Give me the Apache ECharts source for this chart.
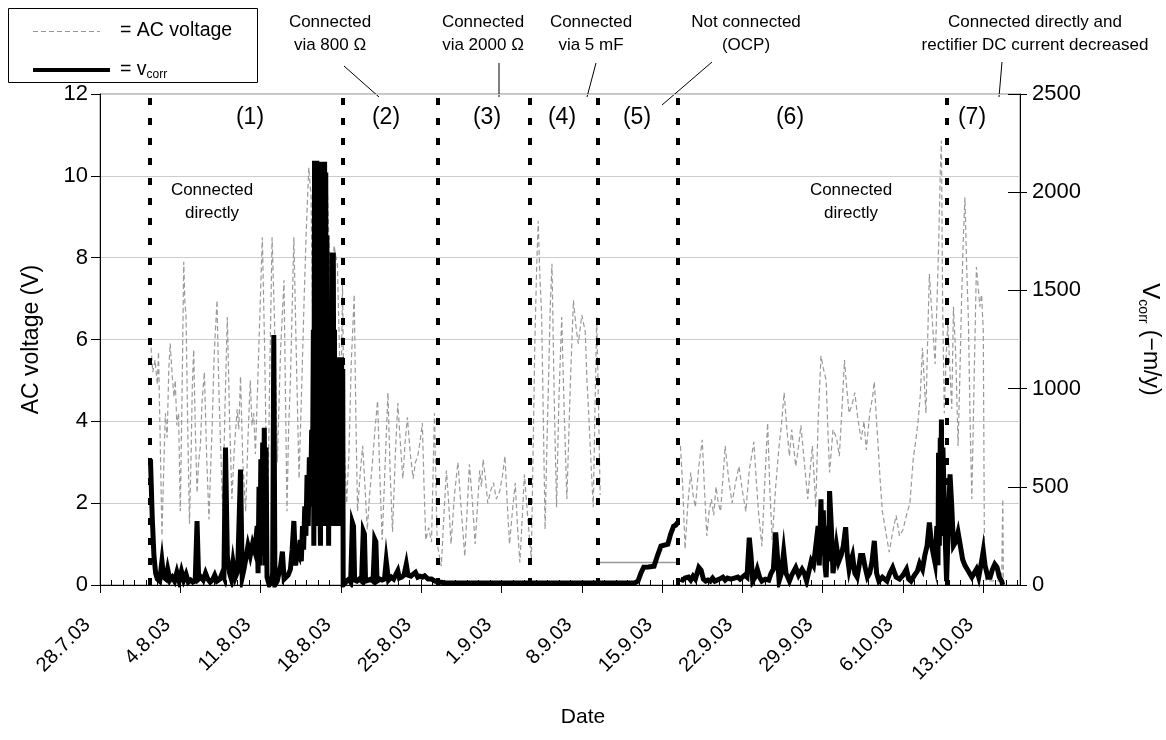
<!DOCTYPE html>
<html>
<head>
<meta charset="utf-8">
<script src="https://cdn.jsdelivr.net/npm/echarts@6/dist/echarts.min.js"></script>
<style>
  html, body { margin: 0; padding: 0; background: #fff; }
  #main { width: 1166px; height: 740px; }
</style>
</head>
<body>
<div id="main"></div>
<script>
// x values are days after 28.7.03
var tickLabels = ['28.7.03', '4.8.03', '11.8.03', '18.8.03', '25.8.03', '1.9.03', '8.9.03',
  '15.9.03', '22.9.03', '29.9.03', '6.10.03', '13.10.03'];

// section boundaries (dotted lines), in days
var boundaryDays = [4.36, 21.19, 29.47, 37.49, 43.42, 50.39, 73.85];

// AC voltage (V), periods 1-4
var acPart1 = [[4.45,5.8],[4.6,5.2],[4.8,5.5],[5.0,4.9],[5.1,5.7],[5.25,3.5],[5.4,1.2],[5.55,2.8],[5.7,4.2],[5.85,3.6],[6.0,5.3],[6.12,5.9],[6.3,5.1],[6.45,4.6],[6.56,5.0],[6.7,3.9],[6.85,4.2],[7.0,1.8],[7.15,4.6],[7.3,7.9],[7.4,6.9],[7.5,6.6],[7.65,3.8],[7.8,1.5],[7.95,3.3],[8.05,4.9],[8.17,5.75],[8.3,3.9],[8.46,2.25],[8.6,3.0],[8.75,3.4],[8.9,4.5],[9.1,5.2],[9.3,3.1],[9.5,1.6],[9.65,2.9],[9.77,3.8],[9.95,5.6],[10.2,6.96],[10.35,4.9],[10.5,3.55],[10.7,1.8],[10.9,4.4],[11.1,6.55],[11.3,4.0],[11.5,2.1],[11.7,3.3],[11.96,4.3],[12.1,3.8],[12.25,5.1],[12.45,3.0],[12.7,1.8],[12.9,3.6],[13.1,5.0],[13.25,3.9],[13.4,4.2],[13.55,3.2],[13.7,4.5],[13.9,6.3],[14.15,8.5],[14.35,5.8],[14.6,1.36],[14.8,5.2],[15.0,8.5],[15.2,6.6],[15.46,3.0],[15.6,4.4],[15.75,5.8],[16.04,7.45],[16.15,5.0],[16.3,1.8],[16.45,3.9],[16.6,5.0],[16.9,8.5],[17.1,5.8],[17.35,2.6],[17.55,4.5],[17.8,7.05],[18.0,8.8],[18.2,10.2],[18.4,9.5],[18.55,6.1],[18.66,2.6],[18.8,6.0],[18.95,8.25],[19.1,8.9],[19.25,9.2],[19.5,8.3],[19.8,9.9],[20.0,8.0],[20.2,6.4],[20.4,8.3],[20.7,7.8],[21.0,4.2],[21.14,7.4],[21.3,3.4],[21.5,2.0],[21.7,3.2],[21.9,5.4],[22.16,7.1],[22.3,4.2],[22.45,1.8],[22.7,2.8],[22.9,3.4],[23.1,2.4],[23.3,1.35],[23.5,2.2],[23.75,3.0],[24.0,3.9],[24.2,4.5],[24.4,2.6],[24.6,1.1],[24.85,2.9],[25.1,4.7],[25.3,2.7],[25.5,1.3],[25.75,3.2],[25.96,4.45],[26.2,3.4],[26.4,2.6],[26.6,3.5],[26.8,4.1],[27.05,3.2],[27.3,2.6],[27.5,3.0],[27.7,3.15],[27.9,3.5],[28.1,3.96],[28.25,2.4],[28.4,1.1],[28.65,1.4],[28.9,1.05],[29.05,2.9],[29.16,4.2],[29.3,2.2],[29.4,1.0],[29.75,0.46],[30.0,1.8],[30.2,2.8],[30.4,2.0],[30.6,1.0],[30.9,2.2],[31.2,3.0],[31.5,1.8],[31.8,0.7],[32.0,1.8],[32.2,2.95],[32.45,2.1],[32.7,1.0],[32.9,1.9],[33.1,2.8],[33.25,2.4],[33.4,3.07],[33.6,2.6],[33.8,2.0],[34.05,2.3],[34.3,2.5],[34.55,2.1],[34.85,2.3],[35.1,2.7],[35.3,3.15],[35.5,2.0],[35.7,1.0],[35.95,1.8],[36.2,2.5],[36.4,1.4],[36.6,0.55],[36.8,1.6],[37.0,2.7],[37.3,1.6],[37.6,0.63],[37.75,3.2],[37.9,5.8],[38.05,7.6],[38.2,8.9],[38.35,7.5],[38.5,6.6],[38.65,4.0],[38.8,1.36],[38.95,3.3],[39.1,5.0],[39.25,6.8],[39.4,7.85],[39.6,4.5],[39.8,1.9],[40.0,4.5],[40.25,6.55],[40.45,4.4],[40.7,2.1],[41.0,4.9],[41.27,6.96],[41.5,6.3],[41.7,5.9],[42.0,6.6],[42.3,6.2],[42.45,5.0],[42.6,4.2],[42.8,3.0],[43.0,1.9],[43.15,4.3],[43.3,6.55],[43.45,4.5],[43.6,2.2]];

// AC voltage while not connected (OCP)
var acOcp = [[43.42,0.55],[50.39,0.55]];

// AC voltage (V), periods 6-7
var acPart2 = [[50.6,3.4],[50.8,2.4],[51.0,0.88],[51.25,2.0],[51.5,2.75],[51.7,2.2],[51.9,1.9],[52.2,2.9],[52.5,3.55],[52.7,2.3],[52.9,1.2],[53.1,1.8],[53.3,2.1],[53.5,1.7],[53.7,2.4],[53.9,2.0],[54.1,1.8],[54.3,2.6],[54.5,3.4],[54.8,2.6],[55.1,2.0],[55.4,2.5],[55.7,2.9],[56.0,2.3],[56.3,1.8],[56.6,2.8],[57.0,3.5],[57.2,2.6],[57.4,1.8],[57.7,0.95],[57.95,2.5],[58.2,3.96],[58.4,2.3],[58.6,1.1],[58.9,2.4],[59.2,3.4],[59.4,3.9],[59.64,4.7],[59.85,3.9],[60.1,3.15],[60.3,3.8],[60.5,3.3],[60.65,2.9],[60.9,3.4],[61.1,3.9],[61.4,3.0],[61.7,2.1],[61.9,2.8],[62.1,3.4],[62.4,1.9],[62.6,4.0],[62.85,5.6],[63.05,5.3],[63.3,5.0],[63.45,3.8],[63.6,2.75],[63.9,3.8],[64.2,3.6],[64.45,3.15],[64.7,4.4],[64.9,5.5],[65.1,4.8],[65.3,4.2],[65.55,4.4],[65.8,4.7],[66.05,4.1],[66.35,3.55],[66.6,4.0],[66.8,3.3],[67.1,4.2],[67.35,4.6],[67.5,4.97],[67.65,4.2],[67.8,3.55],[68.0,2.6],[68.2,1.8],[68.5,1.3],[68.8,0.8],[69.1,1.3],[69.4,1.7],[69.7,1.2],[70.0,1.35],[70.3,1.7],[70.6,2.0],[70.9,3.1],[71.1,3.5],[71.3,3.96],[71.5,4.6],[71.7,5.8],[72.0,4.2],[72.15,6.0],[72.3,7.6],[72.55,6.5],[72.8,5.4],[72.95,6.8],[73.1,8.2],[73.25,10.1],[73.35,10.86],[73.45,7.0],[73.6,4.2],[73.75,5.5],[73.9,6.4],[74.1,5.2],[74.25,4.3],[74.4,6.8],[74.6,5.6],[74.8,3.4],[74.95,5.0],[75.1,6.9],[75.25,8.4],[75.4,9.47],[75.55,7.8],[75.7,6.5],[75.85,4.0],[76.0,2.1],[76.2,5.0],[76.4,7.77],[76.55,7.3],[76.7,6.8],[76.85,7.1],[77.0,6.2],[77.1,0.8],[77.25,0.1],[78.6,0.1],[78.7,2.1],[78.75,0.1]];

// corrosion rate v_corr, left part (periods 1-5)
var vcorrPart1 = [[4.4,640],[4.55,350],[4.7,150],[4.85,60],[5.0,30],[5.2,20],[5.4,122],[5.55,40],[5.75,30],[5.9,81],[6.1,25],[6.3,40],[6.5,20],[6.7,65],[6.9,20],[7.1,70],[7.3,25],[7.5,55],[7.7,15],[7.9,25],[8.1,15],[8.3,20],[8.46,326],[8.6,30],[8.8,40],[9.0,25],[9.2,60],[9.4,30],[9.6,15],[9.8,25],[10.0,50],[10.2,20],[10.45,30],[10.65,60],[10.8,40],[10.94,700],[11.1,150],[11.3,60],[11.45,30],[11.6,115],[11.8,40],[12.0,70],[12.1,60],[12.25,588],[12.4,40],[12.55,80],[12.7,130],[12.9,200],[13.1,150],[13.3,210],[13.5,170],[13.7,300],[13.78,60],[13.86,500],[13.94,100],[14.02,640],[14.1,150],[14.18,725],[14.26,200],[14.32,800],[14.4,100],[14.48,700],[14.56,40],[14.75,0],[14.95,20],[15.05,60],[15.15,1273],[15.25,0],[15.45,20],[15.6,60],[15.75,100],[15.9,170],[16.05,30],[16.2,20],[16.4,50],[16.6,80],[16.75,180],[16.9,326],[17.05,100],[17.2,170],[17.35,150],[17.45,230],[17.55,120],[17.65,300],[17.75,180],[17.85,400],[17.95,250],[18.05,560],[18.15,300],[18.25,650],[18.35,400],[18.45,790],[18.52,500],[18.6,1300],[18.64,200],[18.7,2160],[18.75,400],[18.8,2160],[18.85,300],[18.9,2160],[18.95,600],[19.0,2100],[19.05,300],[19.1,800],[19.16,487],[19.22,200],[19.28,2155],[19.33,400],[19.38,2155],[19.43,300],[19.48,2155],[19.53,500],[19.58,2155],[19.63,300],[19.68,2100],[19.73,600],[19.78,1780],[19.83,400],[19.88,1190],[19.93,200],[19.98,1000],[20.05,300],[20.12,700],[20.18,300],[20.24,1693],[20.29,300],[20.34,1693],[20.39,500],[20.44,1300],[20.49,300],[20.54,940],[20.6,400],[20.66,1160],[20.71,300],[20.76,1160],[20.81,500],[20.86,1160],[20.91,300],[20.96,1160],[21.01,400],[21.06,1160],[21.11,600],[21.16,1100],[21.2,0],[21.5,20],[21.7,30],[21.85,15],[22.0,318],[22.1,300],[22.2,25],[22.4,20],[22.6,30],[22.8,20],[22.95,275],[23.05,260],[23.15,20],[23.4,25],[23.6,30],[23.8,20],[23.95,233],[24.05,220],[24.15,20],[24.4,30],[24.6,25],[24.8,30],[24.95,123],[25.05,115],[25.15,25],[25.4,40],[25.6,30],[25.85,60],[25.96,73],[26.1,35],[26.3,40],[26.5,50],[26.7,106],[26.85,50],[27.1,45],[27.3,55],[27.5,64],[27.7,40],[27.9,45],[28.1,40],[28.3,47],[28.6,30],[28.9,30],[29.2,20],[29.6,15],[30,12],[32,10],[35,10],[38,10],[41,10],[44,10],[46.6,10],[46.9,20],[47.15,60],[47.4,91],[47.8,92],[48.3,96],[48.6,150],[48.9,198],[49.5,208],[49.75,260],[50.0,299],[50.2,305],[50.35,320]];

// corrosion rate v_corr, right part (periods 6-7)
var vcorrPart2 = [[50.6,30],[50.8,25],[51.0,35],[51.3,40],[51.5,25],[51.7,45],[51.9,30],[52.05,60],[52.2,89],[52.4,75],[52.6,30],[52.8,20],[53.0,25],[53.2,20],[53.4,35],[53.6,20],[53.8,25],[54.0,30],[54.3,40],[54.5,25],[54.7,35],[55.0,30],[55.3,35],[55.6,40],[55.8,30],[56.0,40],[56.2,50],[56.4,40],[56.6,241],[56.75,150],[56.9,20],[57.1,40],[57.3,80],[57.5,40],[57.7,20],[58.0,30],[58.3,25],[58.5,60],[58.7,80],[58.9,268],[59.05,150],[59.2,20],[59.4,60],[59.6,170],[59.8,60],[60.1,20],[60.3,50],[60.45,60],[60.65,89],[60.9,50],[61.2,80],[61.4,60],[61.6,20],[61.8,70],[62.0,122],[62.2,100],[62.4,200],[62.6,300],[62.7,100],[62.85,436],[62.95,150],[63.05,380],[63.2,100],[63.3,40],[63.45,300],[63.52,120],[63.6,478],[63.75,300],[63.9,60],[64.05,120],[64.2,200],[64.4,120],[64.6,150],[64.8,200],[65.0,294],[65.15,150],[65.3,80],[65.45,120],[65.6,150],[65.8,60],[66.0,40],[66.15,90],[66.3,150],[66.5,150],[66.7,90],[66.9,40],[67.1,60],[67.3,120],[67.5,225],[67.7,60],[67.9,20],[68.2,40],[68.6,20],[68.85,60],[69.1,89],[69.4,40],[69.7,30],[70.0,50],[70.3,80],[70.5,30],[70.7,20],[71.0,50],[71.25,70],[71.45,110],[71.7,80],[71.9,150],[72.1,200],[72.3,318],[72.5,200],[72.8,110],[72.95,300],[73.05,100],[73.1,673],[73.17,200],[73.25,750],[73.3,300],[73.35,842],[73.42,250],[73.48,700],[73.55,537],[73.7,200],[73.8,20],[73.95,300],[74.1,563],[74.25,400],[74.4,200],[74.6,220],[74.8,268],[75.0,200],[75.2,130],[75.4,100],[75.6,80],[75.8,60],[76.0,40],[76.2,60],[76.4,80],[76.6,40],[76.85,120],[77.0,174],[77.15,100],[77.4,40],[77.6,40],[77.8,80],[78.0,106],[78.2,90],[78.4,40],[78.6,20],[78.7,0]];

var periodLabels = ['(1)', '(2)', '(3)', '(4)', '(5)', '(6)', '(7)'];

var FONT = 'Liberation Sans, Arial, sans-serif';
var GREY = '#999999';

var chart = echarts.init(document.getElementById('main'));

function note(x, y, text, size) {
  return {
    type: 'text', x: x, y: y, silent: true,
    style: { text: text, font: (size || 17) + 'px ' + FONT, fill: '#000',
      align: 'center', verticalAlign: 'middle', lineHeight: 23 }
  };
}
function lead(x1, y1, x2, y2) {
  return { type: 'line', silent: true, shape: { x1: x1, y1: y1, x2: x2, y2: y2 },
    style: { stroke: '#000', lineWidth: 1 } };
}

var periodX = [250, 386, 487, 562, 637, 790, 972];
var graphics = [
  // legend box
  { type: 'rect', shape: { x: 8.5, y: 8.5, width: 249, height: 74 },
    style: { fill: '#fff', stroke: '#000', lineWidth: 1 } },
  { type: 'line', shape: { x1: 33, y1: 31.5, x2: 100, y2: 31.5 },
    style: { stroke: GREY, lineWidth: 1.2, lineDash: [5, 3] } },
  { type: 'text', x: 120, y: 31, style: { text: '= AC voltage', font: '19.5px ' + FONT, fill: '#000', verticalAlign: 'middle' } },
  { type: 'line', shape: { x1: 33, y1: 70, x2: 110, y2: 70 },
    style: { stroke: '#000', lineWidth: 4 } },
  { type: 'text', x: 120, y: 70, style: {
      text: '{m|= v}{s|corr}', verticalAlign: 'middle', fill: '#000',
      rich: { m: { fontSize: 19.5, fontFamily: FONT, lineHeight: 22 },
              s: { fontSize: 12, fontFamily: FONT, lineHeight: 12, verticalAlign: 'bottom' } } } },
  // annotations
  note(330, 34, 'Connected\nvia 800 Ω'),
  note(483, 34, 'Connected\nvia 2000 Ω'),
  note(591, 34, 'Connected\nvia 5 mF'),
  note(746, 34, 'Not connected\n(OCP)'),
  note(1035, 34, 'Connected directly and\nrectifier DC current decreased'),
  lead(344, 66, 379, 97),
  lead(499, 63, 499, 97),
  lead(596, 63, 587, 97),
  lead(712, 62, 662, 105),
  lead(1002, 62, 999, 97),
  note(212, 202, 'Connected\ndirectly'),
  note(851, 202, 'Connected\ndirectly')
];
periodLabels.forEach(function (t, i) { graphics.push(note(periodX[i], 118, t, 23)); });

function plain(v) { return String(v); }

chart.setOption({
  animation: false,
  backgroundColor: '#fff',
  textStyle: { fontFamily: FONT },
  grid: [
    { left: 100, right: 146, top: 94, bottom: 155, outerBoundsMode: 'none',
      show: true, borderColor: '#888', borderWidth: 1 },
    // same box, only used for the inner half of the right-axis ticks
    { left: 100, right: 146, top: 94, bottom: 155, outerBoundsMode: 'none', show: false }
  ],
  xAxis: [
    {
      type: 'value', min: 0, max: 80.2, interval: 7,
      name: 'Date', nameLocation: 'middle', nameGap: 122,
      nameTextStyle: { fontSize: 21, color: '#000', padding: [0, 0, 0, 46] },
      axisLine: { lineStyle: { color: '#000', width: 1 } },
      axisTick: { length: 8, lineStyle: { color: '#000' } },
      axisLabel: {
        rotate: 45, fontSize: 20, color: '#000', margin: 24, padding: [0, 18, 0, 0],
        showMaxLabel: false,
        formatter: function (v) { return tickLabels[Math.round(v / 7)] || ''; }
      },
      splitLine: { show: false }
    },
    {
      // daily ticks pointing into the plot
      type: 'value', min: 0, max: 80.2, interval: 1, position: 'bottom',
      axisLine: { show: false, onZero: false },
      axisTick: { inside: true, length: 5, lineStyle: { color: '#000' } },
      axisLabel: { show: false },
      splitLine: { show: false }
    },
    { type: 'value', gridIndex: 1, min: 0, max: 80.2, show: false }
  ],
  yAxis: [
    {
      type: 'value', min: 0, max: 12, interval: 2, position: 'left',
      name: 'AC voltage (V)', nameLocation: 'middle', nameGap: 57,
      nameTextStyle: { fontSize: 23, color: '#000' },
      axisLine: { show: true, onZero: false, lineStyle: { color: '#000' } },
      axisTick: { show: true, length: 9, lineStyle: { color: '#000' } },
      axisLabel: { fontSize: 22, color: '#000', margin: 12, formatter: plain },
      splitLine: { lineStyle: { color: '#cccccc', width: 1 } }
    },
    {
      type: 'value', min: 0, max: 2500, interval: 500, position: 'right',
      name: '{v|V}{s|corr}{n| (−m/y)}', nameLocation: 'middle', nameGap: 116, nameRotate: -90,
      nameTextStyle: {
        color: '#000',
        rich: {
          v: { fontSize: 24, fontFamily: FONT, lineHeight: 28 },
          s: { fontSize: 14, fontFamily: FONT, lineHeight: 14, verticalAlign: 'bottom' },
          n: { fontSize: 23, fontFamily: FONT, lineHeight: 28 }
        }
      },
      axisLine: { show: true, onZero: false, lineStyle: { color: '#000' } },
      axisTick: { show: true, length: 7, lineStyle: { color: '#000' } },
      axisLabel: { fontSize: 22, color: '#000', margin: 12, formatter: plain },
      splitLine: { show: false }
    },
    {
      gridIndex: 1, type: 'value', min: 0, max: 2500, interval: 500, position: 'right',
      axisLine: { show: false, onZero: false },
      axisTick: { show: true, inside: true, length: 12, lineStyle: { color: '#000' } },
      axisLabel: { show: false },
      splitLine: { show: false }
    }
  ],
  series: [
    {
      name: 'AC voltage', type: 'line', xAxisIndex: 0, yAxisIndex: 0, data: acPart1,
      showSymbol: false, silent: true,
      lineStyle: { color: GREY, width: 1.2, type: [5, 3] }
    },
    {
      name: 'AC voltage', type: 'line', xAxisIndex: 0, yAxisIndex: 0, data: acPart2,
      showSymbol: false, silent: true,
      lineStyle: { color: GREY, width: 1.2, type: [5, 3] }
    },
    {
      name: 'AC voltage (OCP)', type: 'line', xAxisIndex: 0, yAxisIndex: 0, data: acOcp,
      showSymbol: false, silent: true,
      lineStyle: { color: GREY, width: 1.5 }
    },
    {
      name: 'vcorr', type: 'line', xAxisIndex: 0, yAxisIndex: 1, data: vcorrPart1,
      showSymbol: false, silent: true,
      lineStyle: { color: '#000', width: 5, join: 'miter', cap: 'butt' }
    },
    {
      name: 'vcorr', type: 'line', xAxisIndex: 0, yAxisIndex: 1, data: vcorrPart2,
      showSymbol: false, silent: true,
      lineStyle: { color: '#000', width: 5, join: 'miter', cap: 'butt' },
      markLine: {
        silent: true, symbol: ['none', 'none'], label: { show: false },
        lineStyle: { color: '#000', width: 4, type: [7, 13] },
        data: boundaryDays.map(function (d) { return { xAxis: d }; })
      }
    }
  ],
  graphic: graphics
});
</script>
</body>
</html>
